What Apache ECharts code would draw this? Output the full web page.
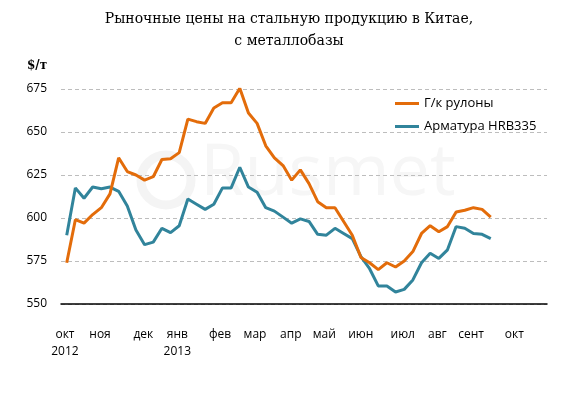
<!DOCTYPE html>
<html>
<head>
<meta charset="utf-8">
<script src="https://cdn.jsdelivr.net/npm/echarts@6/dist/echarts.min.js"></script>
<style>
html,body{margin:0;padding:0;background:#fff;}
#chart{width:578px;height:396px;}
</style>
</head>
<body>
<div id="chart"></div>
<script>
var titleText = 'Рыночные цены на стальную продукцию в Китае,\nс металлобазы';
var unitLabel = '$/т';
var seriesNames = ['Г/к рулоны', 'Арматура HRB335'];
// weekly observations, index 0 = early October 2012
var hrcValues = [574, 599, 597, 602, 606, 614, 635, 627, 625, 622,
  624, 634, 634.5, 638, 657.5, 656, 655, 664, 667, 667,
  675.5, 661, 655, 642, 635, 630.5, 622, 628, 620, 609.5,
  606, 606, 598, 590, 577, 574, 570, 574, 571.5, 575,
  580.5, 591, 595.5, 592, 595, 603.5, 604.5, 606, 605, 600.5];
var rebarValues = [590, 617.5, 611.5, 618, 617, 618, 615.5, 607, 593, 584.5,
  586, 594, 591.5, 595.5, 611, 608, 605, 608, 617.5, 617.5,
  629.5, 618, 615, 606, 604, 600.5, 597, 599.5, 598, 590.5,
  590, 594, 591, 588, 577.5, 570.5, 560.5, 560.5, 557, 558.5,
  564, 574, 579.5, 576.5, 581.5, 595, 594, 591, 590.5, 588];
// month tick labels and the week index at which each is drawn
var monthLabels = ['окт\n2012', 'ноя', 'дек', 'янв\n2013', 'фев', 'мар', 'апр', 'май', 'июн', 'июл', 'авг', 'сент', 'окт'];
var monthTicks = [-0.2, 3.85, 8.85, 12.78, 17.72, 21.76, 25.89, 29.77, 33.98, 38.83, 42.83, 46.72, 51.73];
var yTicks = [550, 575, 600, 625, 650, 675];

var hrcData = hrcValues.map(function (v, i) { return [i, v]; });
var rebarData = rebarValues.map(function (v, i) { return [i, v]; });

var chart = echarts.init(document.getElementById('chart'), null, {renderer: 'canvas'});
var labelFont = 'Open Sans';
chart.setOption({
  animation: false,
  backgroundColor: '#ffffff',
  title: {
    text: titleText,
    left: 'center',
    top: 3,
    textStyle: {
      fontFamily: 'DejaVu Serif',
      fontSize: 14,
      fontWeight: 'normal',
      color: '#000',
      lineHeight: 22
    }
  },
  graphic: [
    {
      type: 'text', left: 27, top: 60, z: 10,
      style: {text: unitLabel, font: 'bold 12px "DejaVu Serif"', fill: '#000'}
    },
    {
      type: 'circle', shape: {cx: 166, cy: 180, r: 25}, z: 0, silent: true,
      style: {fill: 'none', stroke: '#f4f4f4', lineWidth: 9}
    },
    {
      type: 'text', left: 200, top: 138, z: 0, silent: true,
      style: {text: 'Rusmet', font: '72px "Open Sans"', fill: '#f6f6f6'}
    }
  ],
  legend: {
    orient: 'vertical',
    left: 395,
    top: 97,
    padding: 0,
    icon: 'rect',
    itemWidth: 24,
    itemHeight: 3,
    itemGap: 10,
    textStyle: {fontFamily: labelFont, fontSize: 13, color: '#000'},
    data: seriesNames
  },
  grid: {left: 61, right: 31, top: 89, bottom: 92, containLabel: false},
  xAxis: {
    type: 'value',
    min: -0.66,
    max: 55.5,
    axisLine: {show: true, lineStyle: {color: '#000', width: 1.5}},
    axisTick: {show: false},
    splitLine: {show: false},
    axisLabel: {
      customValues: monthTicks,
      margin: 22,
      fontFamily: labelFont,
      fontSize: 12,
      color: '#000',
      lineHeight: 17,
      align: 'center',
      formatter: function (v) {
        var i = monthTicks.indexOf(v);
        return i >= 0 ? monthLabels[i] : '';
      }
    }
  },
  yAxis: {
    type: 'value',
    min: 550,
    max: 675,
    interval: 25,
    axisLine: {show: false},
    axisTick: {show: false},
    axisLabel: {
      margin: 14,
      fontFamily: labelFont,
      fontSize: 12,
      color: '#000',
      formatter: function (v) { return yTicks.indexOf(v) >= 0 ? String(v) : ''; }
    },
    splitLine: {show: true, lineStyle: {color: '#bdbdbd', type: [4, 3], width: 1}}
  },
  series: [
    {
      name: seriesNames[0], type: 'line', data: hrcData, symbol: 'none', z: 3,
      lineStyle: {color: '#E36C0A', width: 3}, itemStyle: {color: '#E36C0A'}
    },
    {
      name: seriesNames[1], type: 'line', data: rebarData, symbol: 'none', z: 2,
      lineStyle: {color: '#31849B', width: 3}, itemStyle: {color: '#31849B'}
    }
  ]
});
</script>
</body>
</html>
